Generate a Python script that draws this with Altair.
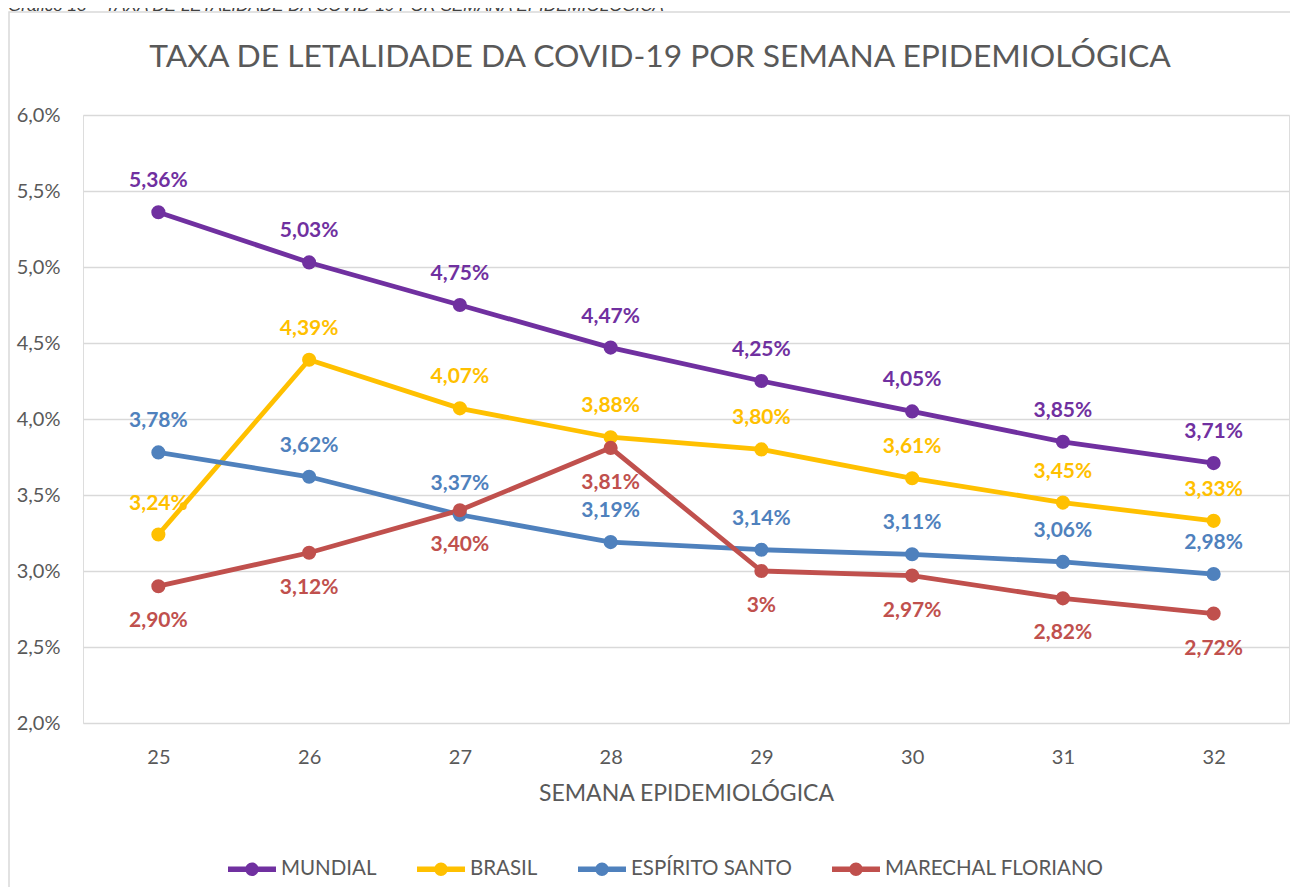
import altair as alt
import pandas as pd

weeks = [25, 26, 27, 28, 29, 30, 31, 32]
series_names = ["MUNDIAL", "BRASIL", "ESPÍRITO SANTO", "MARECHAL FLORIANO"]
colors = ["#7030A0", "#FFC000", "#4F81BD", "#C0504D"]

mundial = [5.36, 5.03, 4.75, 4.47, 4.25, 4.05, 3.85, 3.71]
brasil = [3.24, 4.39, 4.07, 3.88, 3.80, 3.61, 3.45, 3.33]
espirito_santo = [3.78, 3.62, 3.37, 3.19, 3.14, 3.11, 3.06, 2.98]
marechal = [2.90, 3.12, 3.40, 3.81, 3.00, 2.97, 2.82, 2.72]

labels_mundial = ["5,36%", "5,03%", "4,75%", "4,47%", "4,25%", "4,05%", "3,85%", "3,71%"]
labels_brasil = ["3,24%", "4,39%", "4,07%", "3,88%", "3,80%", "3,61%", "3,45%", "3,33%"]
labels_es = ["3,78%", "3,62%", "3,37%", "3,19%", "3,14%", "3,11%", "3,06%", "2,98%"]
labels_marechal = ["2,90%", "3,12%", "3,40%", "3,81%", "3%", "2,97%", "2,82%", "2,72%"]

title_text = "TAXA DE LETALIDADE DA COVID-19 POR SEMANA EPIDEMIOLÓGICA"
caption_text = "Gráfico 13 – TAXA DE LETALIDADE DA COVID-19 POR SEMANA EPIDEMIOLÓGICA"
x_title = "SEMANA EPIDEMIOLÓGICA"

rows = []
for name, vals, labs in zip(series_names,
                            [mundial, brasil, espirito_santo, marechal],
                            [labels_mundial, labels_brasil, labels_es, labels_marechal]):
    for w, v, l in zip(weeks, vals, labs):
        rows.append({"semana": w, "serie": name, "taxa": v, "rotulo": l})
df = pd.DataFrame(rows)

FONT = "Lato"
GRAY = "#595959"

x_enc = alt.X("semana:O", scale=alt.Scale(type="point", padding=0.5),
              axis=alt.Axis(title=x_title, labelAngle=0, labelFontSize=20, labelColor=GRAY,
                            labelFont=FONT, titleFont=FONT, titleFontSize=23,
                            titleFontWeight="normal", titleColor=GRAY, labelPadding=24,
                            titlePadding=15, domain=False, ticks=False, grid=False))
y_enc = alt.Y("taxa:Q", scale=alt.Scale(domain=[2, 6], nice=False, zero=False),
              axis=alt.Axis(title=None, values=[2, 2.5, 3, 3.5, 4, 4.5, 5, 5.5, 6],
                            labelExpr="replace(format(datum.value, '.1f'), '.', ',') + '%'",
                            labelFontSize=20, labelColor=GRAY, labelFont=FONT,
                            labelPadding=23, domain=False, ticks=False,
                            grid=True, gridColor="#D9D9D9", gridWidth=1.3))
color_scale = alt.Scale(domain=series_names, range=colors)

legend_symbol = ("M-1,-0.11L1,-0.11L1,0.11L-1,0.11Z "
                 "M0.28,0A0.28,0.28 0 1,1 -0.28,0A0.28,0.28 0 1,1 0.28,0Z")

base = alt.Chart(df)
one = "datum.semana == 25 && datum.serie == 'MUNDIAL'"

frame = base.mark_rect(fill=None, stroke="#D9D9D9", strokeWidth=1.5).encode(
    x=alt.value(-74), x2=alt.value(1300), y=alt.value(-103), y2=alt.value(900)
).transform_filter(one)

caption = base.mark_text(text=caption_text, font="Liberation Sans", fontStyle="italic",
                         fontSize=17, color="#404040", align="left",
                         baseline="alphabetic").encode(
    x=alt.value(-75), y=alt.value(-104)
).transform_filter(one)

title = base.mark_text(text=title_text, font=FONT, fontSize=31.8, color=GRAY,
                       align="center", baseline="middle").encode(
    x=alt.value(577), y=alt.value(-58)
).transform_filter(one)

lines = base.mark_line(strokeWidth=4.8).encode(
    x=x_enc, y=y_enc,
    color=alt.Color("serie:N", scale=color_scale, sort=series_names,
                    legend=alt.Legend(title=None, orient="none", direction="horizontal",
                                      legendX=145, legendY=730, symbolType=legend_symbol,
                                      symbolSize=2300, symbolStrokeWidth=0,
                                      labelFontSize=20.5, labelFont=FONT, labelColor=GRAY,
                                      labelOffset=5, columnPadding=40, labelLimit=0,
                                      symbolOpacity=1)),
    detail="serie:N"
)

points = base.mark_point(filled=True, size=200, opacity=1).encode(
    x="semana:O", y="taxa:Q",
    color=alt.Color("serie:N", scale=color_scale, legend=None)
)

text_above = base.mark_text(fontSize=21, fontWeight="bold", font=FONT, dy=-31).encode(
    x="semana:O", y="taxa:Q", text="rotulo:N",
    color=alt.Color("serie:N", scale=color_scale, legend=None)
).transform_filter("datum.serie != 'MARECHAL FLORIANO'")

text_below = base.mark_text(fontSize=21, fontWeight="bold", font=FONT, dy=35).encode(
    x="semana:O", y="taxa:Q", text="rotulo:N",
    color=alt.Color("serie:N", scale=color_scale, legend=None)
).transform_filter("datum.serie == 'MARECHAL FLORIANO'")

chart = alt.layer(frame, caption, title, lines, points, text_above, text_below).properties(
    width=1206, height=608,
    autosize=alt.AutoSizeParams(type="none"),
    padding={"left": 75, "top": 107, "right": 1, "bottom": 164}
).configure_view(stroke=None).configure(background="white")

chart.save("out.html", embed_options={"renderer": "svg", "actions": False})
